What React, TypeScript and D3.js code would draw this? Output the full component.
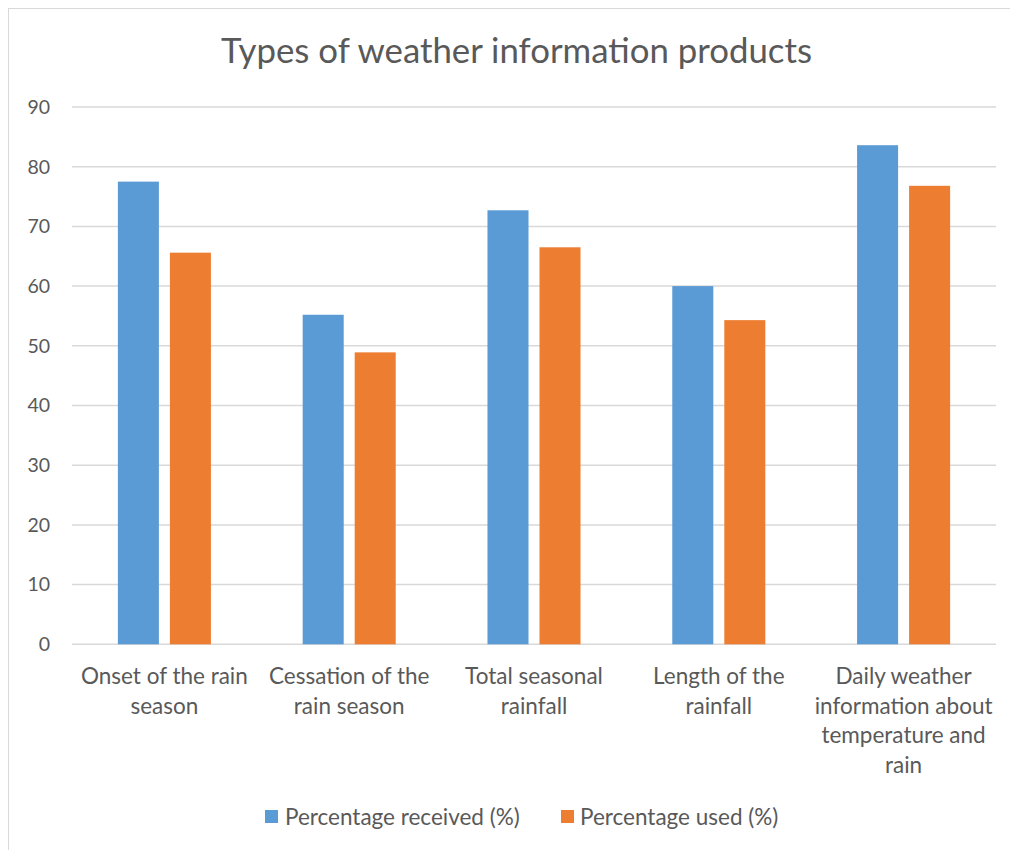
import React from "react";
import * as d3 from "d3";

const categories: string[][] = [
  ["Onset of the rain", "season"],
  ["Cessation of the", "rain season"],
  ["Total seasonal", "rainfall"],
  ["Length of the", "rainfall"],
  ["Daily weather", "information about", "temperature and", "rain"],
];
const received: number[] = [77.5, 55.2, 72.7, 60.0, 83.6];
const used: number[] = [65.6, 48.9, 66.5, 54.3, 76.8];
const seriesNames = ["Percentage received (%)", "Percentage used (%)"];
const seriesColors = ["#5b9bd5", "#ed7d31"];
const yTicks = [0, 10, 20, 30, 40, 50, 60, 70, 80, 90];
const title = "Types of weather information products";

const W = 1010;
const H = 850;
const FONT = "Lato, 'Open Sans', sans-serif";

export default function App() {
  const plotLeft = 72;
  const plotRight = 996;
  const plotTop = 107;
  const plotBottom = 644.3;

  const x = d3
    .scaleBand<number>()
    .domain(categories.map((_, i) => i))
    .range([plotLeft, plotRight])
    .paddingInner(0)
    .paddingOuter(0);
  const y = d3.scaleLinear().domain([0, 90]).range([plotBottom, plotTop]);

  const band = x.bandwidth();
  const barW = band * 0.222;
  const gap = 11;

  const series = [received, used];

  return (
    <div style={{ position: "absolute", left: 0, top: 0 }}>
      <svg width={W} height={H} style={{ display: "block", background: "#fff" }}>
        <rect x={8.5} y={8.5} width={1010} height={900} fill="#fff" stroke="#d9d9d9" strokeWidth={1} />
        <text
          x={516.5}
          y={63}
          textAnchor="middle"
          fontFamily={FONT}
          fontSize={34.8}
          fill="#595959"
        >
          {title}
        </text>
        {yTicks.map((t) => (
          <g key={t}>
            <line
              x1={plotLeft}
              x2={plotRight}
              y1={y(t)}
              y2={y(t)}
              stroke="#d9d9d9"
              strokeWidth={1.5}
            />
            <text
              x={50}
              y={y(t)}
              dy="0.35em"
              textAnchor="end"
              fontFamily={FONT}
              fontSize={19.5}
              fill="#595959"
            >
              {t}
            </text>
          </g>
        ))}
        {categories.map((_, i) => {
          const cx = (x(i) as number) + band / 2;
          return series.map((s, si) => {
            const bx = si === 0 ? cx - gap / 2 - barW : cx + gap / 2;
            return (
              <rect
                key={`${i}-${si}`}
                x={bx}
                y={y(s[i])}
                width={barW}
                height={plotBottom - y(s[i])}
                fill={seriesColors[si]}
              />
            );
          });
        })}
        {categories.map((lines, i) => {
          const cx = (x(i) as number) + band / 2;
          return (
            <text
              key={i}
              textAnchor="middle"
              fontFamily={FONT}
              fontSize={22.5}
              fill="#595959"
            >
              {lines.map((ln, li) => (
                <tspan key={li} x={cx} y={684 + li * 29.5}>
                  {ln}
                </tspan>
              ))}
            </text>
          );
        })}
        {[
          { sx: 265, tx: 285 },
          { sx: 561, tx: 580 },
        ].map((p, si) => (
          <g key={si}>
            <rect x={p.sx} y={810} width={13} height={13} fill={seriesColors[si]} />
            <text
              x={p.tx}
              y={817}
              dy="0.35em"
              fontFamily={FONT}
              fontSize={22.5}
              fill="#595959"
            >
              {seriesNames[si]}
            </text>
          </g>
        ))}
      </svg>
    </div>
  );
}
